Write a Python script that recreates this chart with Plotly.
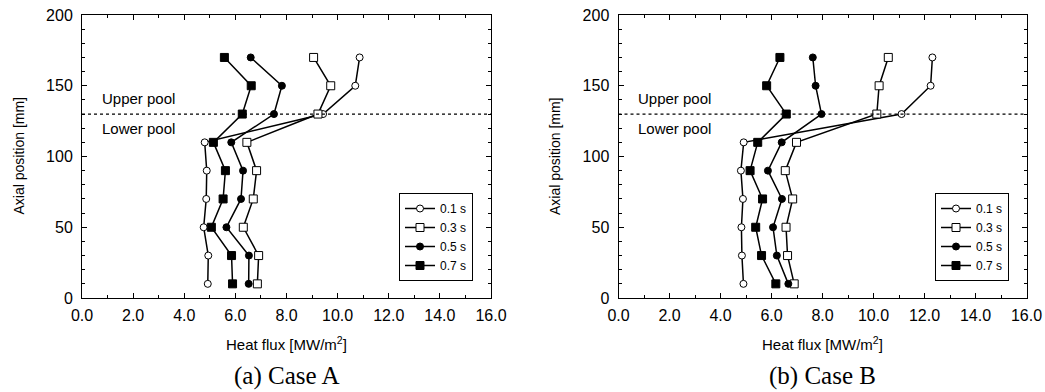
import plotly.graph_objects as go

# Axial measurement positions [mm]
positions = [10, 30, 50, 70, 90, 110, 130, 150, 170]
times = ["0.1 s", "0.3 s", "0.5 s", "0.7 s"]

# Heat flux [MW/m2] at each position, Case A
case_a_01 = [4.92, 4.94, 4.76, 4.86, 4.88, 4.80, 9.43, 10.69, 10.86]
case_a_03 = [6.86, 6.91, 6.31, 6.70, 6.83, 6.45, 9.23, 9.73, 9.06]
case_a_05 = [6.52, 6.53, 5.65, 6.22, 6.30, 5.84, 7.51, 7.82, 6.60]
case_a_07 = [5.89, 5.85, 5.06, 5.52, 5.61, 5.14, 6.27, 6.62, 5.57]

# Heat flux [MW/m2] at each position, Case B
case_b_01 = [4.90, 4.84, 4.82, 4.88, 4.80, 4.91, 11.10, 12.24, 12.31]
case_b_03 = [6.89, 6.63, 6.57, 6.83, 6.54, 6.98, 10.13, 10.22, 10.58]
case_b_05 = [6.66, 6.21, 6.06, 6.41, 5.86, 6.40, 7.96, 7.73, 7.62]
case_b_07 = [6.17, 5.61, 5.38, 5.65, 5.16, 5.46, 6.58, 5.81, 6.33]

pool_boundary = 130
x_ticks = [0, 2, 4, 6, 8, 10, 12, 14, 16]
y_ticks = [0, 50, 100, 150, 200]

W, H = 1045, 392
SANS = "Liberation Sans, Arial, sans-serif"
SERIF = "Liberation Serif, Times New Roman, serif"

styles = [
    dict(symbol="circle", size=7, color="white"),
    dict(symbol="square", size=8, color="white"),
    dict(symbol="circle", size=7, color="black"),
    dict(symbol="square", size=8, color="black"),
]

fig = go.Figure()

panels = [
    ("x", "y", "legend", [case_a_01, case_a_03, case_a_05, case_a_07]),
    ("x2", "y2", "legend2", [case_b_01, case_b_03, case_b_05, case_b_07]),
]
for xa, ya, leg, series in panels:
    for name, vals, st in zip(times, series, styles):
        fig.add_trace(go.Scatter(
            x=vals, y=positions, mode="lines+markers", name=name,
            xaxis=xa, yaxis=ya, legend=leg,
            line=dict(color="black", width=1.5),
            marker=dict(symbol=st["symbol"], size=st["size"], color=st["color"],
                        line=dict(color="black", width=1)),
        ))

def px_x(p):
    return p / W

def px_y(p):
    return 1 - p / H

left_dom = [px_x(82), px_x(491)]
right_dom = [px_x(618.5), px_x(1026.5)]
y_dom = [px_y(298), px_y(15)]

axis_common = dict(
    showline=True, linecolor="black", linewidth=1, mirror="ticks",
    ticks="inside", ticklen=5, tickwidth=1, tickcolor="black",
    showgrid=False, zeroline=False, automargin=False,
    tickfont=dict(family=SANS, size=16, color="black"),
)
xaxis_common = dict(axis_common, range=[0, 16], tickvals=x_ticks, tickformat=".1f",
                    ticklabelstandoff=3,
                    minor=dict(dtick=1, ticks="inside", ticklen=3, tickcolor="black", showgrid=False))
yaxis_common = dict(axis_common, range=[0, 200], tickvals=y_ticks, ticklabelstandoff=5,
                    minor=dict(dtick=10, ticks="inside", ticklen=3, tickcolor="black", showgrid=False))

legend_common = dict(
    bgcolor="white", bordercolor="black", borderwidth=1,
    font=dict(family=SANS, size=12, color="black"),
    xanchor="right", yanchor="bottom", tracegroupgap=0,
)

fig.update_layout(
    width=W, height=H,
    margin=dict(l=0, r=0, t=0, b=0, autoexpand=False),
    paper_bgcolor="white", plot_bgcolor="white",
    xaxis=dict(xaxis_common, domain=left_dom, anchor="y"),
    yaxis=dict(yaxis_common, domain=y_dom, anchor="x"),
    xaxis2=dict(xaxis_common, domain=right_dom, anchor="y2"),
    yaxis2=dict(yaxis_common, domain=y_dom, anchor="x2"),
    legend=dict(legend_common, x=px_x(473), y=px_y(281)),
    legend2=dict(legend_common, x=px_x(1009), y=px_y(281)),
)

annotations = []
shapes = []
for xa, ya, dom, title in [("x", "y", left_dom, "(a) Case A"), ("x2", "y2", right_dom, "(b) Case B")]:
    # boundary between the upper and lower pool
    shapes.append(dict(type="line", xref=f"{xa} domain", yref=ya, x0=0, x1=1,
                       y0=pool_boundary, y1=pool_boundary,
                       line=dict(color="black", width=1.2, dash="dot")))
    annotations.append(dict(xref=xa, yref=ya, x=0.7, y=141, text="Upper pool", showarrow=False,
                            xanchor="left", yanchor="middle",
                            font=dict(family=SANS, size=15, color="black")))
    annotations.append(dict(xref=xa, yref=ya, x=0.7, y=120, text="Lower pool", showarrow=False,
                            xanchor="left", yanchor="middle",
                            font=dict(family=SANS, size=15, color="black")))
    cx = (dom[0] + dom[1]) / 2
    annotations.append(dict(xref="paper", yref="paper", x=cx, y=px_y(343),
                            text="Heat flux [MW/m<sup>2</sup>]", showarrow=False,
                            xanchor="center", yanchor="middle",
                            font=dict(family=SANS, size=15, color="black")))
    annotations.append(dict(xref="paper", yref="paper", x=cx, y=px_y(376),
                            text=title, showarrow=False,
                            xanchor="center", yanchor="middle",
                            font=dict(family=SERIF, size=25, color="black")))
    annotations.append(dict(xref="paper", yref="paper", x=dom[0] - 64 / W, y=(y_dom[0] + y_dom[1]) / 2,
                            text="Axial position [mm]", showarrow=False, textangle=-90,
                            xanchor="center", yanchor="middle",
                            font=dict(family=SANS, size=14, color="black")))

fig.update_layout(annotations=annotations, shapes=shapes)

fig.write_html("out.html")
